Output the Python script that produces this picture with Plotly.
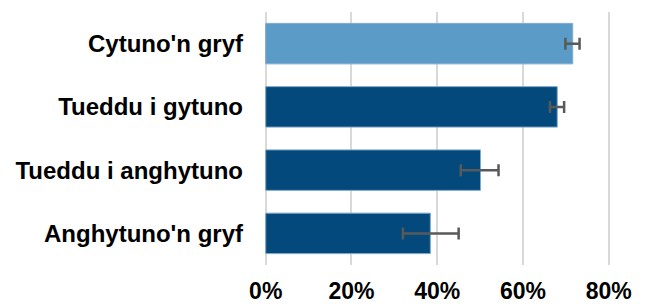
import plotly.graph_objects as go

categories = ["Cytuno'n gryf", "Tueddu i gytuno", "Tueddu i anghytuno", "Anghytuno'n gryf"]
values = [0.716, 0.680, 0.501, 0.384]
err_plus = [0.016, 0.016, 0.042, 0.066]
err_minus = [0.017, 0.017, 0.046, 0.064]
bar_colors = ["#5B9BC8", "#03497B", "#03497B", "#03497B"]
tick_vals = [0, 0.2, 0.4, 0.6, 0.8]
tick_text = ["0%", "20%", "40%", "60%", "80%"]

fig = go.Figure(go.Bar(
    y=categories, x=values, orientation="h",
    marker=dict(color=bar_colors, line=dict(color="#7FA9CC", width=1)),
    width=0.64,
    error_x=dict(type="data", symmetric=False, array=err_plus, arrayminus=err_minus,
                 color="#595959", thickness=2.5, width=6),
))

# page body adds an 8px offset, so the figure is sized/offset to compensate
fig.update_layout(
    width=639, height=296,
    margin=dict(l=256, r=34, t=4, b=39, autoexpand=False),
    paper_bgcolor="white", plot_bgcolor="white",
    showlegend=False,
    font=dict(family="Liberation Sans, Arial, sans-serif", color="black"),
    bargap=0.36,
)
fig.update_xaxes(
    range=[-0.004, 0.81], tickvals=tick_vals, ticktext=tick_text,
    showgrid=True, gridcolor="#D9D9D9", gridwidth=2,
    zeroline=False, showline=False, automargin=False,
    tickfont=dict(size=23, family="Liberation Sans, Arial, sans-serif", weight="bold"),
    ticklabelstandoff=10,
)
fig.update_yaxes(
    categoryorder="array", categoryarray=categories[::-1],
    showgrid=False, zeroline=False, showline=False, automargin=False,
    tickfont=dict(size=24, family="Liberation Sans, Arial, sans-serif", weight="bold"),
    ticklabelstandoff=20,
)

fig.write_html("out.html")
